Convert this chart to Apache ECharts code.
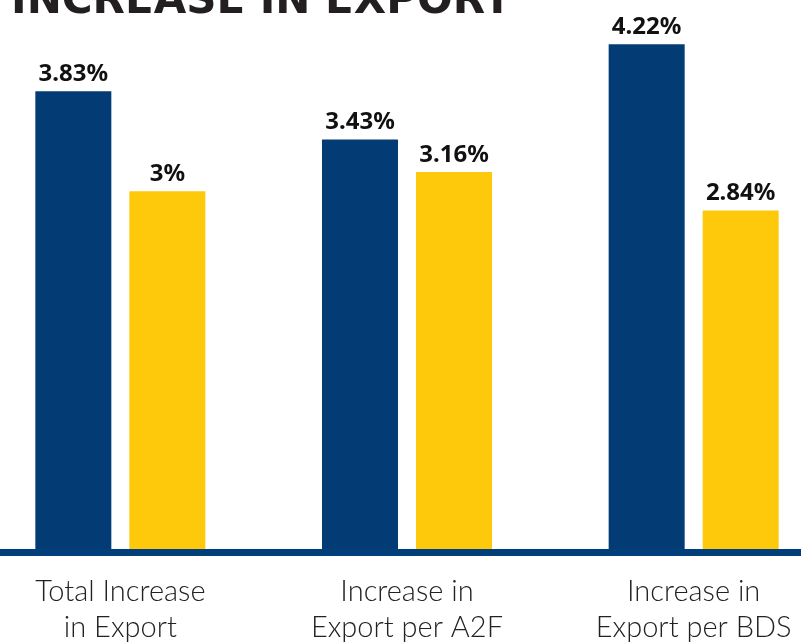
<!DOCTYPE html>
<html>
<head>
<meta charset="utf-8">
<script src="https://cdn.jsdelivr.net/npm/echarts@6/dist/echarts.min.js"></script>
<style>html,body{margin:0;padding:0;background:#fff;}#c{width:801px;height:643px;}</style>
</head>
<body>
<div id="c"></div>
<script>
var categories = ['Total Increase\nin Export', 'Increase in\nExport per A2F', 'Increase in\nExport per BDS'];
var seriesA = [3.83, 3.43, 4.22];
var seriesB = [3, 3.16, 2.84];
var titleText = 'INCREASE IN EXPORT';

var chart = echarts.init(document.getElementById('c'), null, {renderer: 'canvas'});
var labelStyle = {
  show: true, position: 'top', distance: 5,
  formatter: '{c}%', color: '#111111',
  fontFamily: 'Noto Sans', fontWeight: 'bold', fontSize: 24
};
chart.setOption({
  animation: false,
  backgroundColor: '#ffffff',
  title: {
    text: titleText, left: 6, top: -24,
    textStyle: {fontFamily: 'DejaVu Sans', fontWeight: 'bold', fontSize: 42, color: '#231f20'}
  },
  grid: {left: -23, right: -36, top: 10.5, bottom: 90.5, containLabel: false, outerBoundsMode: 'none'},
  xAxis: {
    type: 'category', data: categories,
    axisLine: {show: true, lineStyle: {color: '#023f7a', width: 7}},
    axisTick: {show: false},
    axisLabel: {
      interval: 0, margin: 21, color: '#222222',
      fontFamily: 'Lato', fontWeight: 300, fontSize: 29, lineHeight: 36
    },
    z: 10
  },
  yAxis: {type: 'value', min: 0, max: 4.5, show: false, splitLine: {show: false}},
  series: [
    {type: 'bar', data: seriesA, barWidth: 76, barGap: '23.7%',
     itemStyle: {color: '#033c74'}, label: labelStyle},
    {type: 'bar', data: seriesB, barWidth: 76,
     itemStyle: {color: '#ffc90b'}, label: labelStyle}
  ]
});
</script>
</body>
</html>
